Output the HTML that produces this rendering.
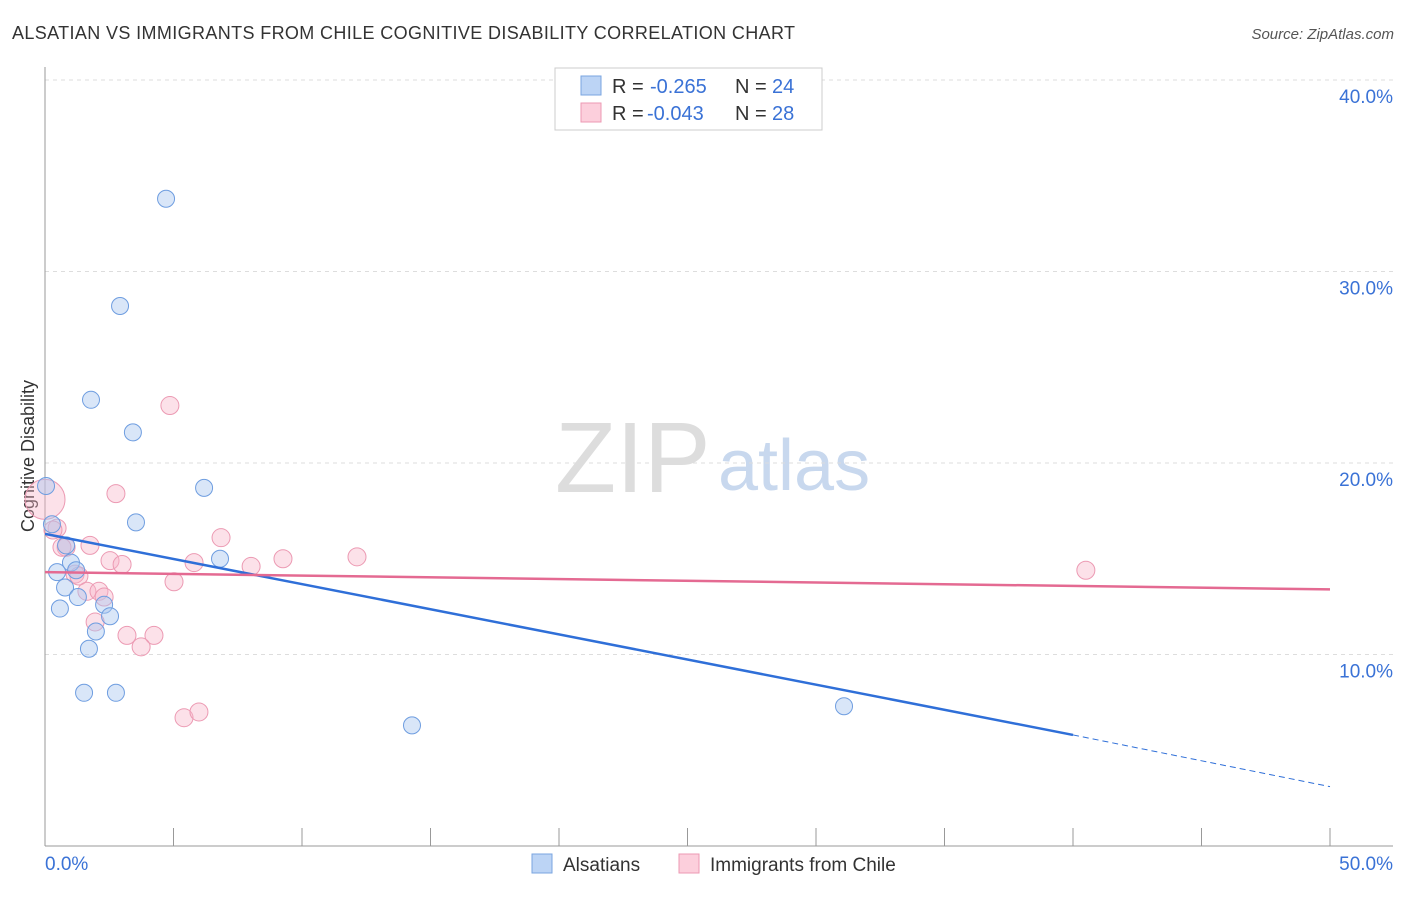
<!DOCTYPE html>
<html><head><meta charset="utf-8"><style>
body{margin:0;background:#fff;font-family:"Liberation Sans",sans-serif}
svg text{font-family:"Liberation Sans",sans-serif}
</style></head><body>
<svg id="c" width="1406" height="892">
<text x="12" y="39" font-size="18" fill="#333" textLength="783">ALSATIAN VS IMMIGRANTS FROM CHILE COGNITIVE DISABILITY CORRELATION CHART</text>
<text x="1394" y="39" font-size="15" fill="#555" font-style="italic" text-anchor="end">Source: ZipAtlas.com</text>
<text x="0" y="0" transform="translate(34,456) rotate(-90)" font-size="18" fill="#333" text-anchor="middle">Cognitive Disability</text>
<text x="555" y="492" font-size="100" fill="#ddd" font-family="Liberation Serif">ZIP</text>
<text x="718" y="490" font-size="72" fill="#c8d8ee">atlas</text>
<g id="grid"></g><g id="pts"></g><g id="lines"></g>
<g>
<rect x="555" y="68" width="267" height="62" fill="#fff" stroke="#ccc"/>
<rect x="581" y="76" width="20" height="19" fill="#bcd4f5" stroke="#7aa5e0"/>
<rect x="581" y="103" width="20" height="19" fill="#fccfdc" stroke="#ec9ab3"/>
<text x="612" y="93" font-size="20" fill="#333">R =</text>
<text x="650" y="93" font-size="20" fill="#3a72d6">-0.265</text>
<text x="735" y="93" font-size="20" fill="#333">N =</text>
<text x="772" y="93" font-size="20" fill="#3a72d6">24</text>
<text x="612" y="120" font-size="20" fill="#333">R =</text>
<text x="647" y="120" font-size="20" fill="#3a72d6">-0.043</text>
<text x="735" y="120" font-size="20" fill="#333">N =</text>
<text x="772" y="120" font-size="20" fill="#3a72d6">28</text>
</g>
<g>
<rect x="532" y="854" width="20" height="19" fill="#bcd4f5" stroke="#7aa5e0"/>
<text x="563" y="871" font-size="19" fill="#333">Alsatians</text>
<rect x="679" y="854" width="20" height="19" fill="#fccfdc" stroke="#ec9ab3"/>
<text x="710" y="871" font-size="19" fill="#333">Immigrants from Chile</text>
</g>
</svg>
<script>
const yTicks=[10,20,30,40];
const yTickLabels=["10.0%","20.0%","30.0%","40.0%"];
const xTickLabels=["0.0%","50.0%"];
const blueX=[0.04,4.71,2.92,1.79,3.42,6.19,3.54,0.27,0.82,1.01,1.21,0.47,0.78,1.28,2.30,2.53,0.58,1.98,1.71,1.52,2.76,6.81,14.28,31.09];
const blueY=[18.8,33.8,28.2,23.3,21.6,18.7,16.9,16.8,15.7,14.8,14.4,14.3,13.5,13.0,12.6,12.0,12.4,11.2,10.3,8.0,8.0,15.0,6.3,7.3];
const pinkX=[0,2.76,4.86,6.85,0.47,0.82,1.75,2.53,3.0,1.17,1.32,1.63,2.1,2.3,1.95,3.19,4.24,3.74,5.02,5.8,8.02,9.26,12.14,5.41,5.99,40.5,0.31,0.66];
const pinkY=[18.1,18.4,23.0,16.1,16.6,15.6,15.7,14.9,14.7,14.2,14.1,13.3,13.3,13.0,11.7,11.0,11.0,10.4,13.8,14.8,14.6,15.0,15.1,6.7,7.0,14.4,16.5,15.6];
const pinkR=[20,9,9,9,9,9,9,9,9,9,9,9,9,9,9,9,9,9,9,9,9,9,9,9,9,9,9,9];
const blueTrend=[16.3,5.8,3.1]; // at x=0,40,50
const pinkTrend=[14.3,13.4];   // at x=0,50
const X=v=>45+v*25.7, Y=v=>846-v*19.15;
const NS="http://www.w3.org/2000/svg";
function mk(p,t,a){const e=document.createElementNS(NS,t);for(const k in a)e.setAttribute(k,a[k]);p.appendChild(e);return e;}
const g=document.getElementById('grid');
yTicks.forEach((t,i)=>{
 const l=mk(g,'line',{x1:45,x2:1393,y1:Y(t),y2:Y(t),stroke:'#ddd','stroke-dasharray':'4,4'});
 
 
 const tx=mk(g,'text',{x:1393,y:Y(t)+23,'font-size':19,fill:'#3a72d6','text-anchor':'end'});tx.textContent=yTickLabels[i];
 
 
});
const ax=mk(g,'line',{x1:45,x2:45,y1:67,y2:846,stroke:'#999'});


const bx=mk(g,'line',{x1:45,x2:1393,y1:846,y2:846,stroke:'#999'});


for(let i=0;i<=10;i++){mk(g,'line',{x1:X(i*5),x2:X(i*5),y1:828,y2:846,stroke:'#999'});}
[[0,'start',45],[1,'end',1393]].forEach(([i,a,x])=>{const t=mk(g,'text',{x:x,y:870,'font-size':19,fill:'#3a72d6','text-anchor':a});t.textContent=xTickLabels[i];
 
 });
const p=document.getElementById('pts');
pinkX.forEach((v,i)=>{const c=mk(p,'circle',{cx:X(v),cy:Y(pinkY[i]),r:pinkR[i],fill:'rgba(248,180,200,0.4)',stroke:'#ec9ab3','stroke-width':1});
 
 });
blueX.forEach((v,i)=>{const c=mk(p,'circle',{cx:X(v),cy:Y(blueY[i]),r:8.5,fill:'rgba(170,200,240,0.45)',stroke:'#6e9de0','stroke-width':1});
 
 });
const L=document.getElementById('lines');
const b1=mk(L,'line',{x1:X(0),y1:Y(blueTrend[0]),x2:X(40),y2:Y(blueTrend[1]),stroke:'#2f6fd8','stroke-width':2.5});


const b2=mk(L,'line',{x1:X(40),y1:Y(blueTrend[1]),x2:X(50),y2:Y(blueTrend[2]),stroke:'#2f6fd8','stroke-width':1,'stroke-dasharray':'6,4'});


const p1=mk(L,'line',{x1:X(0),y1:Y(pinkTrend[0]),x2:X(50),y2:Y(pinkTrend[1]),stroke:'#e46a92','stroke-width':2.5});


</script>
</body></html>
